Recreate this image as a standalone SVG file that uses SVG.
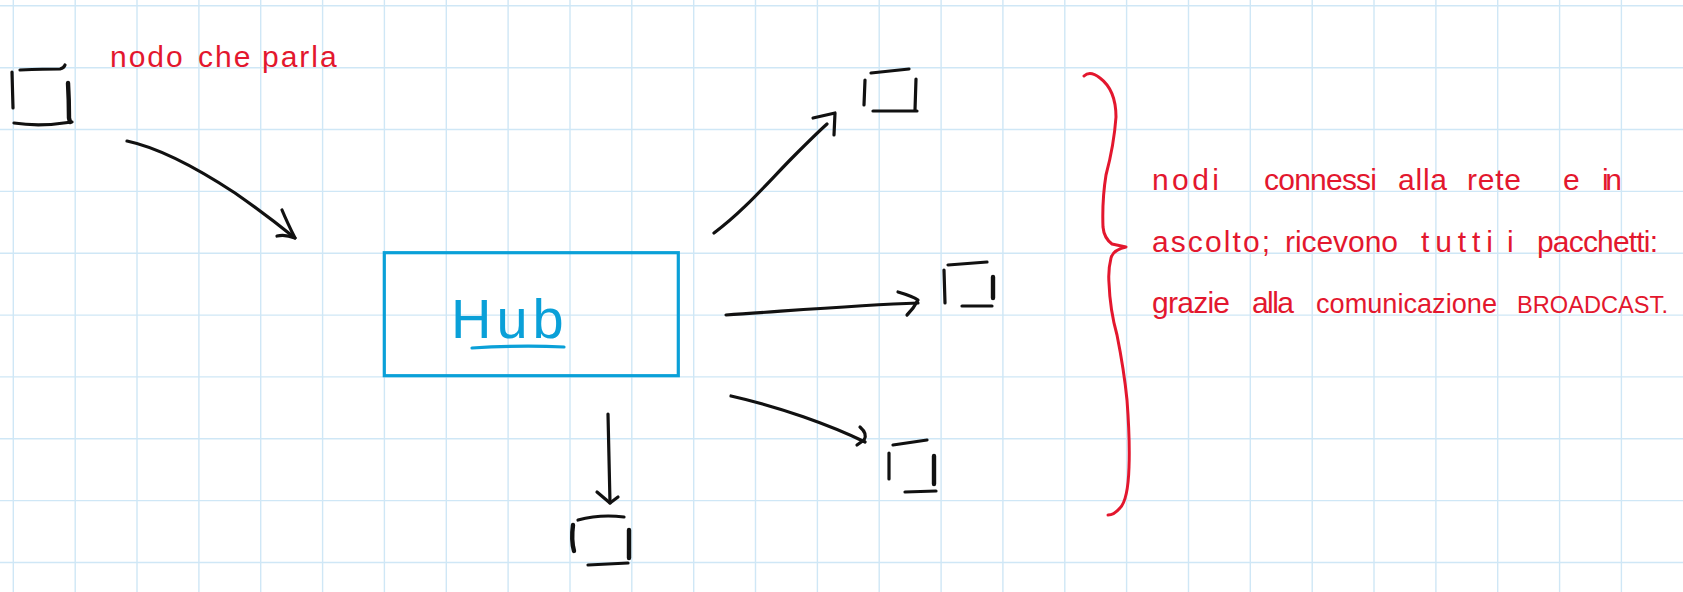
<svg xmlns="http://www.w3.org/2000/svg" width="1683" height="592" viewBox="0 0 1683 592">
<style>
.grid{stroke:#cfe7f6;stroke-width:1.4;fill:none}
.ink{stroke:#111;stroke-width:3.2;fill:none;stroke-linecap:round;stroke-linejoin:round}
.thick{stroke-width:4.4}
.red{stroke:#e3172e;stroke-width:3;fill:none;stroke-linecap:round;stroke-linejoin:round}
.rt{fill:#e3172e;font-family:"Liberation Sans",Arial,sans-serif;font-size:30px}
.blue{stroke:#0aa0d8;stroke-width:3.2;fill:none;stroke-linecap:round}
</style>
<rect x="0" y="0" width="1683" height="592" fill="#ffffff"/>
<path class="grid" d="M13.3,0V592M75.2,0V592M137,0V592M198.9,0V592M260.7,0V592M322.6,0V592M384.4,0V592M446.3,0V592M508.1,0V592M570,0V592M631.8,0V592M693.7,0V592M755.5,0V592M817.4,0V592M879.2,0V592M941.1,0V592M1002.9,0V592M1064.8,0V592M1126.6,0V592M1188.5,0V592M1250.3,0V592M1312.2,0V592M1374,0V592M1435.9,0V592M1497.7,0V592M1559.6,0V592M1621.4,0V592M0,5.8H1683M0,67.7H1683M0,129.5H1683M0,191.4H1683M0,253.2H1683M0,315.1H1683M0,376.9H1683M0,438.8H1683M0,500.6H1683M0,562.5H1683"/>

<g id="node-talker">
<path class="ink" d="M12,72 L13,108"/>
<path class="ink" d="M20,70 Q45,69 60,69 Q64,68 65,65"/>
<path class="ink thick" d="M68,83 Q69,100 69,118 L70,122"/>
<path class="ink" d="M14,123 Q40,127 72,122"/>
</g>
<text class="rt" x="110" y="67" font-size="25" letter-spacing="2">nodo <tspan x="198">che</tspan> <tspan x="262">parla</tspan></text>

<g id="hub">
<rect x="384.3" y="252.7" width="294" height="123" class="blue"/>
<text x="451" y="338" fill="#0aa0d8" font-family="Liberation Sans,Arial,sans-serif" font-size="56" letter-spacing="5">Hub</text>
<path class="blue" d="M472,348 Q520,345 564,347"/>
</g>

<g id="node-top-right">
<path class="ink" d="M865,80 L864,105"/>
<path class="ink" d="M871,73 L909,69"/>
<path class="ink" d="M916,79 L915,110"/>
<path class="ink" d="M873,111 L917,111"/>
</g>

<g id="node-mid-right">
<path class="ink" d="M948,265 L987,262"/>
<path class="ink" d="M944,270 L945,303"/>
<path class="ink thick" d="M993,277 L993,298"/>
<path class="ink" d="M962,306 L992,306"/>
</g>

<g id="node-bottom-right">
<path class="ink" d="M893,445 L927,440"/>
<path class="ink" d="M889,453 L889,479"/>
<path class="ink thick" d="M934,456 L934,484"/>
<path class="ink" d="M905,492 L936,491"/>
</g>

<g id="node-bottom">
<path class="ink" d="M578,520 Q600,514 624,517"/>
<path class="ink thick" d="M573,525 Q571,540 574,551"/>
<path class="ink thick" d="M629,530 L629,558"/>
<path class="ink" d="M588,565 L628,563"/>
</g>

<g id="connectors">
<path class="ink" d="M127,141 C160,148 200,170 235,193 C255,207 275,222 295,238"/>
<path class="ink" d="M282,210 Q287,222 295,238 Q285,234 277,236"/>
<path class="ink" d="M714,233 C745,210 770,180 795,155 C808,142 818,132 827,124"/>
<path class="ink" d="M813,118 L835,113 L834,135"/>
<path class="ink" d="M726,315 C800,310 860,305 918,303"/>
<path class="ink" d="M898,292 Q912,296 918,300 Q914,308 907,315"/>
<path class="ink" d="M731,396 C780,407 830,425 865,442"/>
<path class="ink" d="M860,427 Q868,434 864,440 L857,445"/>
<path class="ink" d="M608,414 L610,503"/>
<path class="ink" d="M597,492 L610,503 L618,497"/>
</g>

<g id="brace-note">
<path class="red" d="M1084,76 Q1090,70 1100,78 Q1116,90 1116,117 Q1114,145 1106,175 Q1102,200 1103,227 Q1104,238 1112,244 L1126,247 Q1113,250 1111,258 Q1108,270 1109,283 Q1110,310 1117,335 Q1124,370 1127,400 Q1130,440 1129,467 Q1128,500 1120,508 Q1114,515 1108,515"/>
<text class="rt" y="190"><tspan x="1152" textLength="67" lengthAdjust="spacing">nodi</tspan> <tspan x="1264" textLength="113" lengthAdjust="spacing">connessi</tspan> <tspan x="1398" textLength="49" lengthAdjust="spacing">alla</tspan> <tspan x="1467" textLength="54" lengthAdjust="spacing">rete</tspan> <tspan x="1563">e</tspan> <tspan x="1602" textLength="20" lengthAdjust="spacing">in</tspan></text>
<text class="rt" y="252"><tspan x="1152" textLength="118" lengthAdjust="spacing">ascolto;</tspan> <tspan x="1285" textLength="113" lengthAdjust="spacing">ricevono</tspan> <tspan x="1421" textLength="72" lengthAdjust="spacing">tutti</tspan> <tspan x="1507">i</tspan> <tspan x="1537" textLength="121" lengthAdjust="spacing">pacchetti:</tspan></text>
<text class="rt" y="313"><tspan x="1152" textLength="78" lengthAdjust="spacing">grazie</tspan> <tspan x="1252" textLength="42" lengthAdjust="spacing">alla</tspan> <tspan x="1316" font-size="28" textLength="181" lengthAdjust="spacingAndGlyphs">comunicazione</tspan> <tspan x="1517" font-size="24" textLength="151" lengthAdjust="spacingAndGlyphs">BROADCAST.</tspan></text>
</g>
</svg>
